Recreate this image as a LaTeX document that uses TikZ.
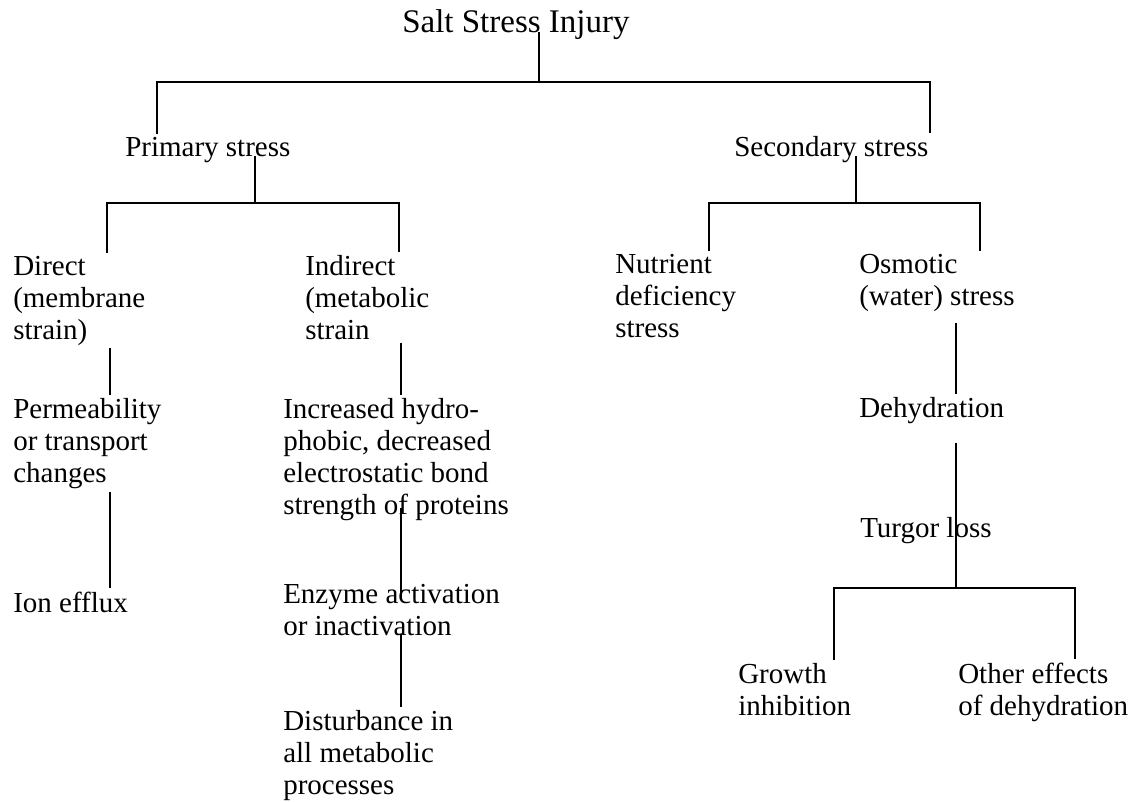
\documentclass[tikz,border=0pt]{standalone}
\usepackage{fontspec}
\setmainfont{Liberation Serif}

\begin{document}
\begin{tikzpicture}[
  x=0.75pt, y=-0.75pt,
  item/.style={anchor=base west, align=left,
    inner xsep=0pt, inner ysep=2.25pt,
    font=\fontsize{21.75}{24}\selectfont},
  head/.style={item, font=\fontsize{24.75}{27}\selectfont},
  link/.style={line width=1.7pt, black}
]
\useasboundingbox (0,0) rectangle (1133,801);

% Top of the tree (positions are the baselines of the last lines)
\node[head] (salt) at (402,32)  {Salt Stress Injury};
\node[item] (prim) at (125,156) {Primary stress};
\node[item] (secd) at (734,156) {Secondary stress};

% Primary stress branch
\node[item] (direct) at (13,339)  {Direct\\(membrane\\strain)};
\node[item] (indir)  at (305,339) {Indirect\\(metabolic\\strain};
\node[item] (perm)   at (13,482)  {Permeability\\or transport\\changes};
\node[item] (incr)   at (283,514) {Increased hydro-\\phobic, decreased\\electrostatic bond\\strength of proteins};
\node[item] (ionef)  at (13,612)  {Ion efflux};
\node[item] (enzy)   at (283,635) {Enzyme activation\\or inactivation};
\node[item] (dist)   at (283,794) {Disturbance in\\all metabolic\\processes};

% Secondary stress branch
\node[item] (nutr)  at (615,337) {Nutrient\\deficiency\\stress};
\node[item] (osm)   at (859,305) {Osmotic\\(water) stress};
\node[item] (dehyd) at (859,417) {Dehydration};
\node[item] (turg)  at (860,537) {Turgor loss};
\node[item] (grow)  at (738,715) {Growth\\inhibition};
\node[item] (other) at (958,715) {Other effects\\of dehydration};

% Junctions of the tree
\coordinate (j1) at (539,82);  \coordinate (j1l) at (157,82);  \coordinate (j1r) at (930,82);
\coordinate (j2) at (255,203); \coordinate (j2l) at (107,203); \coordinate (j2r) at (399,203);
\coordinate (j3) at (856,203); \coordinate (j3l) at (709,203); \coordinate (j3r) at (980,203);
\coordinate (j4) at (956,588); \coordinate (j4l) at (834,588); \coordinate (j4r) at (1075,588);
\coordinate (c1) at (110,0);   \coordinate (c2) at (401,0);

% Branches
\draw[link] (salt.base -| j1) -- (j1);
\draw[link] (prim.north -| j1l) -- (j1l) -- (j1r) -- (secd.north -| j1r);
\draw[link] (prim.base -| j2) -- (j2);
\draw[link] (direct.north -| j2l) -- (j2l) -- (j2r) -- (indir.north -| j2r);
\draw[link] (secd.base -| j3) -- (j3);
\draw[link] (nutr.north -| j3l) -- (j3l) -- (j3r) -- (osm.north -| j3r);

% Chains
\draw[link] (direct.south -| c1) -- (perm.north -| c1);
\draw[link] (perm.south -| c1) -- (ionef.north -| c1);
\draw[link] (indir.south -| c2) -- (incr.north -| c2);
\draw[link] ([yshift=12pt]incr.south -| c2) -- ([yshift=-12.75pt]enzy.north -| c2);
\draw[link] ([yshift=3.75pt]enzy.south -| c2) -- (dist.north -| c2);
\draw[link] ([yshift=-6.75pt]osm.south -| j4) -- (dehyd.north -| j4);
\draw[link] ([yshift=-12pt]dehyd.south -| j4) -- (turg.south -| j4) -- (j4);
\draw[link] (grow.north -| j4l) -- (j4l) -- (j4r) -- (other.north -| j4r);
\end{tikzpicture}
\end{document}
